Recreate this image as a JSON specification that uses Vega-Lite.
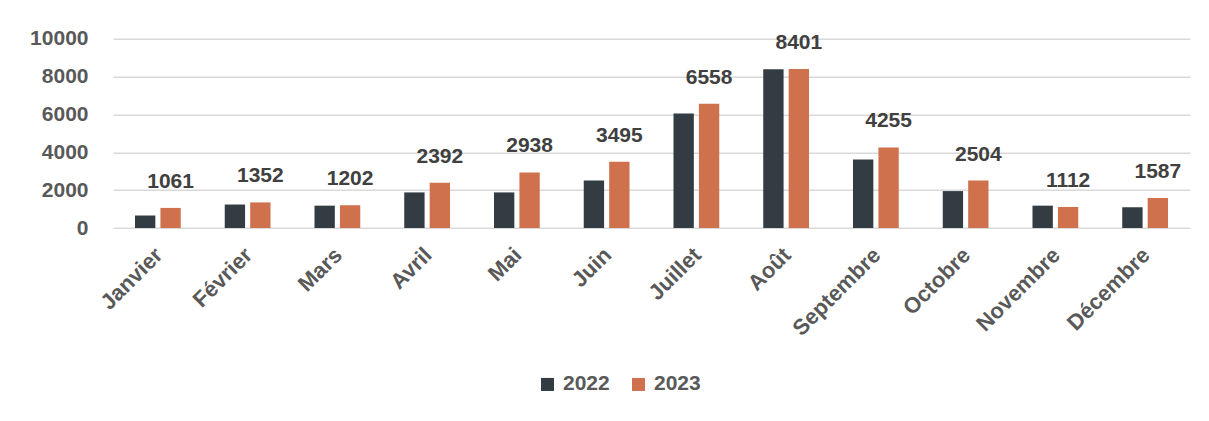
{
  "$schema": "https://vega.github.io/schema/vega-lite/v6.json",
  "width": 1077,
  "height": 189.3,
  "autosize": {"type": "none"},
  "padding": {"left": 113, "top": 38.7, "right": 19, "bottom": 193},
  "background": "white",
  "config": {
    "view": {"stroke": null},
    "font": "Liberation Sans"
  },
  "data": {
    "values": [
      {"month": "Janvier", "year": "2022", "value": 660},
      {"month": "Janvier", "year": "2023", "value": 1061},
      {"month": "Février", "year": "2022", "value": 1240},
      {"month": "Février", "year": "2023", "value": 1352},
      {"month": "Mars", "year": "2022", "value": 1180},
      {"month": "Mars", "year": "2023", "value": 1202},
      {"month": "Avril", "year": "2022", "value": 1880},
      {"month": "Avril", "year": "2023", "value": 2392},
      {"month": "Mai", "year": "2022", "value": 1880},
      {"month": "Mai", "year": "2023", "value": 2938},
      {"month": "Juin", "year": "2022", "value": 2510},
      {"month": "Juin", "year": "2023", "value": 3495},
      {"month": "Juillet", "year": "2022", "value": 6050},
      {"month": "Juillet", "year": "2023", "value": 6558},
      {"month": "Août", "year": "2022", "value": 8390},
      {"month": "Août", "year": "2023", "value": 8401},
      {"month": "Septembre", "year": "2022", "value": 3620},
      {"month": "Septembre", "year": "2023", "value": 4255},
      {"month": "Octobre", "year": "2022", "value": 1950},
      {"month": "Octobre", "year": "2023", "value": 2504},
      {"month": "Novembre", "year": "2022", "value": 1180},
      {"month": "Novembre", "year": "2023", "value": 1112},
      {"month": "Décembre", "year": "2022", "value": 1090},
      {"month": "Décembre", "year": "2023", "value": 1587}
    ]
  },
  "encoding": {
    "x": {
      "field": "month",
      "type": "nominal",
      "sort": null,
      "scale": {"paddingInner": 0.49, "paddingOuter": 0.245},
      "axis": {
        "title": null,
        "domain": false,
        "ticks": false,
        "labelAngle": -45,
        "labelAlign": "right",
        "labelBaseline": "top",
        "labelPadding": 16,
        "labelOffset": -6,
        "labelFontSize": 22,
        "labelFontWeight": "bold",
        "labelColor": "#595959"
      }
    },
    "xOffset": {"field": "year", "type": "nominal", "scale": {"paddingInner": 0.2}},
    "y": {
      "field": "value",
      "type": "quantitative",
      "scale": {"domain": [0, 10000]},
      "axis": {
        "title": null,
        "domain": false,
        "ticks": false,
        "format": "d",
        "values": [0, 2000, 4000, 6000, 8000, 10000],
        "labelPadding": 25,
        "labelFontSize": 21,
        "labelFontWeight": "bold",
        "labelColor": "#595959",
        "gridColor": "#d9d9d9",
        "gridWidth": 1.5
      }
    }
  },
  "layer": [
    {
      "mark": {"type": "bar"},
      "encoding": {
        "color": {
          "field": "year",
          "type": "nominal",
          "scale": {"domain": ["2022", "2023"], "range": ["#323c42", "#cf714c"]},
          "legend": {
            "title": null,
            "orient": "none",
            "direction": "horizontal",
            "legendX": 424,
            "legendY": 335,
            "symbolType": "square",
            "symbolSize": 170,
            "symbolStrokeWidth": 0,
            "labelFontSize": 21,
            "labelFontWeight": "bold",
            "labelColor": "#595959",
            "labelOffset": 5,
            "columnPadding": 18
          }
        }
      }
    },
    {
      "transform": [{"filter": "datum.year == '2023'"}],
      "mark": {
        "type": "text",
        "baseline": "alphabetic",
        "dy": -20,
        "fontSize": 21,
        "fontWeight": "bold",
        "color": "#404040"
      },
      "encoding": {
        "text": {"field": "value", "type": "quantitative"}
      }
    }
  ]
}
